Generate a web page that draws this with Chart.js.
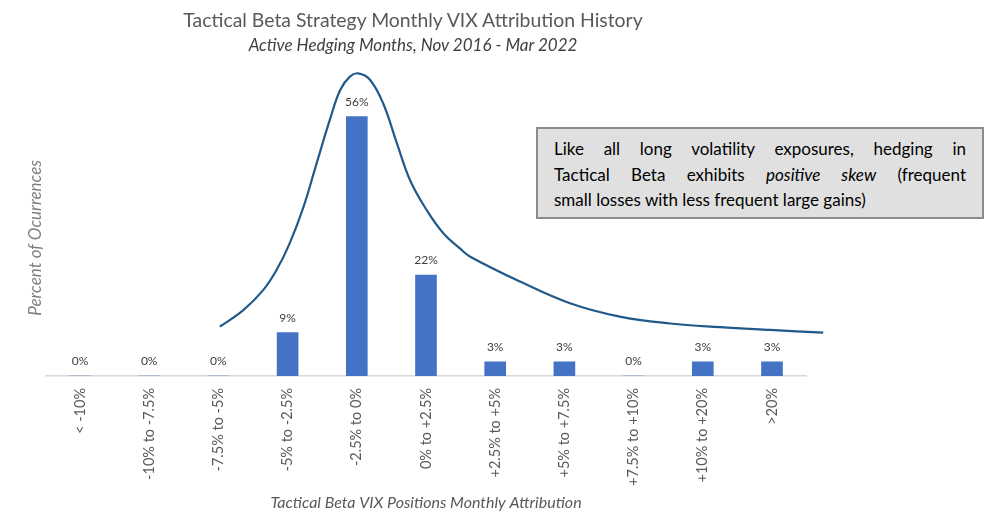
<!DOCTYPE html>
<html>
<head>
<meta charset="utf-8">
<script src="https://cdn.jsdelivr.net/npm/chart.js@4.4.1/dist/chart.umd.min.js"></script>
<style>
  html, body { margin: 0; padding: 0; background: #fff; }
  #wrap { position: relative; width: 1002px; height: 529px; font-family: Lato, "Open Sans", sans-serif; }
  #chart { position: absolute; left: 0; top: 0; }
  .title { position: absolute; left: 0; width: 826px; text-align: center; color: #595959; }
  #t1 { top: 8px; font-size: 19.4px; }
  #t2 { top: 34px; font-size: 17px; font-style: italic; color: #404040; }
  #note {
    position: absolute; left: 536px; top: 127px; width: 412px; height: 76px;
    padding: 7px 16px 5px 16px; background: #e0e0e0; border: 2px solid #8c8c8c;
    font-size: 17px; line-height: 25.5px; color: #000;
  }
  #note .j { text-align: justify; text-align-last: justify; }
</style>
</head>
<body>
<div id="wrap">
  <canvas id="chart" width="1002" height="529"></canvas>
  <div class="title" id="t1">Tactical Beta Strategy Monthly VIX Attribution History</div>
  <div class="title" id="t2">Active Hedging Months, Nov 2016 - Mar 2022</div>
  <div id="note">
    <div class="j">Like all long volatility exposures, hedging in</div>
    <div class="j">Tactical Beta exhibits <i>positive skew</i> (frequent</div>
    <div>small losses with less frequent large gains)</div>
  </div>
</div>
<script>
const categories = ['< -10%', '-10% to -7.5%', '-7.5% to -5%', '-5% to -2.5%', '-2.5% to 0%',
    '0% to +2.5%', '+2.5% to +5%', '+5% to +7.5%', '+7.5% to +10%', '+10% to +20%', '>20%'];
const occurrences = [0, 0, 0, 9.4, 56.3, 21.9, 3.1, 3.1, 0, 3.1, 3.1];

// hand-drawn skew curve (x in category units)
const curveX = [2.02, 2.36, 2.65, 2.84, 3.03, 3.23, 3.42, 3.61, 3.76, 3.90, 4.02, 4.19, 4.38, 4.58,
    4.77, 5.01, 5.25, 5.49, 5.64, 6.36, 7.08, 7.80, 8.53, 9.25, 9.97, 10.74];
const curveY = [10.7, 14.3, 18.7, 23.0, 28.8, 36.7, 46.2, 55.6, 62.1, 65.0, 65.7, 64.3, 59.2, 50.5,
    42.5, 36.0, 31.0, 27.7, 25.9, 20.5, 15.8, 12.9, 11.4, 10.6, 10.0, 9.4];

const yMax = 60;

const barLabels = {
    id: 'barLabels',
    afterDatasetsDraw(chart) {
        const ctx = chart.ctx;
        const meta = chart.getDatasetMeta(0);
        ctx.save();
        ctx.font = '12px Lato, "Open Sans", sans-serif';
        ctx.fillStyle = '#404040';
        ctx.textAlign = 'center';
        ctx.textBaseline = 'middle';
        meta.data.forEach((bar, i) => {
            ctx.fillText(Math.round(occurrences[i]) + '%', bar.x, bar.y - 15);
        });
        ctx.restore();
    }
};

new Chart(document.getElementById('chart'), {
    data: {
        labels: categories,
        datasets: [
            {
                type: 'bar',
                data: occurrences,
                backgroundColor: '#4472c4',
                barThickness: 21,
                grouped: false,
                xAxisID: 'x',
                order: 2
            },
            {
                type: 'line',
                data: curveX.map((x, i) => ({ x: x, y: curveY[i] })),
                xAxisID: 'x2',
                borderColor: '#215a8a',
                borderWidth: 2.2,
                pointRadius: 0,
                tension: 0.4,
                clip: false,
                fill: false,
                order: 1
            }
        ]
    },
    options: {
        responsive: false,
        animation: false,
        layout: { padding: { left: 20, right: 195.4, top: 99.6, bottom: 0 } },
        plugins: { legend: { display: false }, tooltip: { enabled: false }, title: { display: false } },
        scales: {
            x: {
                type: 'category',
                grid: { display: false },
                border: { color: '#d9d9d9', width: 1.5 },
                ticks: {
                    minRotation: 90, maxRotation: 90, padding: 4,
                    color: '#595959',
                    font: { family: 'Lato, "Open Sans", sans-serif', size: 14.5 }
                },
                title: {
                    display: true,
                    text: 'Tactical Beta VIX Positions Monthly Attribution',
                    color: '#595959',
                    font: { family: 'Lato, "Open Sans", sans-serif', size: 16, style: 'italic' },
                    padding: { top: 0, bottom: 17 }
                },
                afterFit(scale) { scale.height = 153; }
            },
            x2: {
                type: 'linear',
                min: -0.5, max: 10.5,
                display: false
            },
            y: {
                min: 0, max: yMax,
                grid: { display: false },
                border: { display: false },
                ticks: { display: false },
                title: {
                    display: true,
                    text: 'Percent of Ocurrences',
                    color: '#7f7f7f',
                    font: { family: 'Lato, "Open Sans", sans-serif', size: 17, style: 'italic' },
                    padding: { top: 5, bottom: 0 }
                },
                afterFit(scale) { scale.width = 25.4; }
            }
        }
    },
    plugins: [barLabels]
});
</script>
</body>
</html>
